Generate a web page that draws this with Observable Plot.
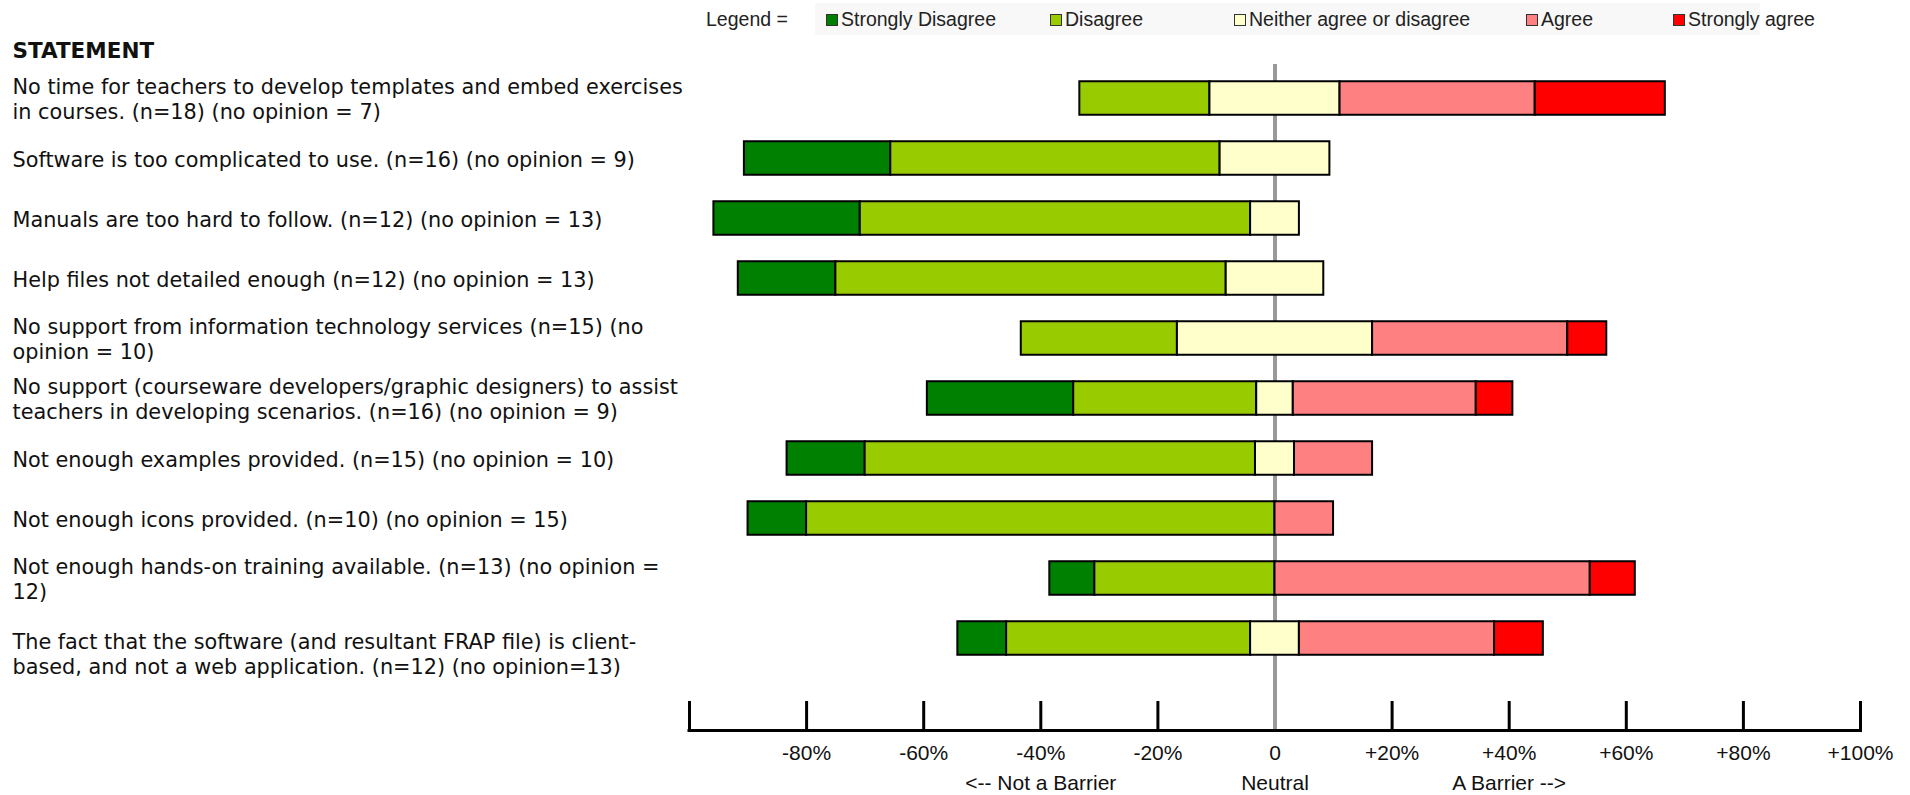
<!DOCTYPE html>
<html><head><meta charset="utf-8">
<script src="https://cdn.jsdelivr.net/npm/d3@7"></script>
<script src="https://cdn.jsdelivr.net/npm/@observablehq/plot@0.6"></script>
<style>
html,body{margin:0;padding:0;background:#fff;}
#legend{position:relative;width:1910px;height:36px;font-family:"Liberation Sans Narrow","Arial Narrow","Liberation Sans",Arial,sans-serif;font-size:19.5px;color:#222;}
#legend .bg{position:absolute;left:815px;top:3px;width:945px;height:32px;background:#f8f8f8;}
#legend .lbl{position:absolute;top:19.5px;transform:translateY(-50%);white-space:nowrap;line-height:1;}
#legend .sw{position:absolute;top:14px;width:10px;height:10px;border:1px solid #333;}
#chart svg{display:block;}
</style></head><body>
<div id="legend"></div>
<div id="chart"></div>
<script>
// ---- data ----
const statements = [
  "No time for teachers to develop templates and embed exercises\nin courses. (n=18) (no opinion = 7)",
  "Software is too complicated to use. (n=16) (no opinion = 9)",
  "Manuals are too hard to follow. (n=12) (no opinion = 13)",
  "Help files not detailed enough (n=12) (no opinion = 13)",
  "No support from information technology services (n=15) (no\nopinion = 10)",
  "No support (courseware developers/graphic designers) to assist\nteachers in developing scenarios. (n=16) (no opinion = 9)",
  "Not enough examples provided. (n=15) (no opinion = 10)",
  "Not enough icons provided. (n=10) (no opinion = 15)",
  "Not enough hands-on training available. (n=13) (no opinion =\n12)",
  "The fact that the software (and resultant FRAP file) is client-\nbased, and not a web application. (n=12) (no opinion=13)"
];
const nRespondents = [18, 16, 12, 12, 15, 16, 15, 10, 13, 12];
const stronglyDisagree = [0, 4, 3, 2, 0, 4, 2, 1, 1, 1];
const disagree         = [4, 9, 8, 8, 4, 5, 10, 8, 4, 5];
const neither          = [4, 3, 1, 2, 5, 1, 1, 0, 0, 1];
const agree            = [6, 0, 0, 0, 5, 5, 2, 1, 7, 4];
const stronglyAgree    = [4, 0, 0, 0, 1, 1, 0, 0, 1, 1];

const categories = ["Strongly Disagree", "Disagree", "Neither agree or disagree", "Agree", "Strongly agree"];
const colors = ["#008000", "#99CC00", "#FFFFCC", "#FF8080", "#FF0000"];

const tickValues = [-80, -60, -40, -20, 0, 20, 40, 60, 80, 100];
const tickLabels = ["-80%", "-60%", "-40%", "-20%", "0", "+20%", "+40%", "+60%", "+80%", "+100%"];
const tickMarkValues = [-100, -80, -60, -40, -20, 20, 40, 60, 80, 100];
const subLabels = ["<-- Not a Barrier", "Neutral", "A Barrier -->"];
const subLabelX = [-40, 0, 40];

// ---- derived segments (diverging, neutral centred on 0) ----
const countsByCat = [stronglyDisagree, disagree, neither, agree, stronglyAgree];
const segments = [];
statements.forEach((s, i) => {
  const total = nRespondents[i];
  const pct = countsByCat.map(c => c[i] / total * 100);
  let x = -(pct[0] + pct[1] + pct[2] / 2);
  pct.forEach((p, k) => {
    if (p > 0) segments.push({statement: s, category: categories[k], x1: x, x2: x + p});
    x += p;
  });
});

// ---- legend (HTML, above the svg) ----
const legendLeft = [826, 1050, 1234, 1526, 1673];
const legend = document.getElementById("legend");
legend.innerHTML = `<div class="bg"></div><div class="lbl" style="left:706px">Legend =</div>` +
  categories.map((c, i) =>
    `<div class="sw" style="left:${legendLeft[i]}px;background:${colors[i]}"></div>` +
    `<div class="lbl" style="left:${legendLeft[i] + 15}px">${c}</div>`).join("");

// ---- chart ----
const W = 1910, H = 759;
const mTop = 28, mBottom = 63;
const frameH = H - mTop - mBottom;
const textFont = "DejaVu Sans, Verdana, sans-serif";
const axisFont = "Liberation Sans, Arial, sans-serif";
const lastLabel = statements[statements.length - 1];

const chart = Plot.plot({
  width: W, height: H,
  marginLeft: 689, marginRight: 50, marginTop: mTop, marginBottom: mBottom,
  style: {background: "white", overflow: "visible"},
  x: {domain: [-100, 100], axis: null},
  y: {domain: statements, range: [29.75, 634.75], padding: 0, axis: null},
  color: {domain: categories, range: colors},
  marks: [
    Plot.ruleX([0], {stroke: "#999", strokeWidth: 4}),
    Plot.barX(segments, {
      y: "statement", x1: "x1", x2: "x2", fill: "category",
      stroke: "#000", strokeWidth: 2, insetTop: 13.25, insetBottom: 13.25
    }),
    Plot.ruleX(tickMarkValues, {stroke: "#000", strokeWidth: 3, insetTop: frameH - 31}),
    Plot.rect([0], {x1: -100, x2: 100, fill: "#000", insetTop: frameH - 3, insetLeft: -1.5, insetRight: -1.5}),
    Plot.axisX(tickValues, {
      tickSize: 0, tickPadding: 13, label: null,
      tickFormat: d => tickLabels[tickValues.indexOf(d)],
      fontSize: 21, fontFamily: axisFont, fill: "#111"
    }),
    Plot.text(subLabels, {
      x: (d, i) => subLabelX[i], text: d => d, frameAnchor: "bottom", dy: 51,
      lineAnchor: "middle", fontSize: 21, fontFamily: axisFont, fill: "#111"
    }),
    Plot.text(["STATEMENT"], {
      text: d => d, frameAnchor: "top-left", dx: -677, dy: -13, textAnchor: "start",
      lineAnchor: "middle", fontWeight: "bold", fontSize: 21.5, fontFamily: textFont, fill: "#111"
    }),
    Plot.text(statements.filter(s => s !== lastLabel), {
      y: d => d, text: d => d, frameAnchor: "left", dx: -677, textAnchor: "start",
      lineAnchor: "middle", lineHeight: 1.2, fontSize: 20.8, fontFamily: textFont, fill: "#111"
    }),
    Plot.text([lastLabel], {
      y: d => d, text: d => d, frameAnchor: "left", dx: -677, dy: 15, textAnchor: "start",
      lineAnchor: "middle", lineHeight: 1.2, fontSize: 20.8, fontFamily: textFont, fill: "#111"
    })
  ]
});
document.getElementById("chart").appendChild(chart);
</script>
</body></html>
